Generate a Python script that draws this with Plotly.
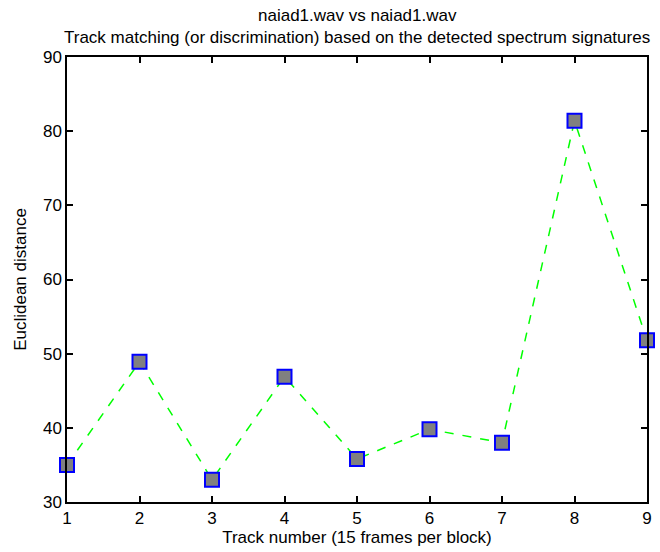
import plotly.graph_objects as go

tracks = [1, 2, 3, 4, 5, 6, 7, 8, 9]
distances = [35.0, 48.9, 33.0, 46.9, 35.8, 39.8, 38.0, 81.4, 51.8]
y_ticks = [30, 40, 50, 60, 70, 80, 90]

title_lines = [
    "naiad1.wav vs naiad1.wav",
    "Track matching (or discrimination) based on the detected spectrum signatures",
]

FONT = "Liberation Sans, Arial"

fig = go.Figure()
fig.add_trace(go.Scatter(
    x=tracks, y=distances, mode="lines+markers",
    line=dict(color="#00ff00", width=1.5, dash="dash"),
    marker=dict(symbol="square", size=14, color="#808080",
                line=dict(color="#0000ff", width=2)),
    cliponaxis=False, showlegend=False,
))

axis_common = dict(
    showgrid=False, zeroline=False, showline=True, linecolor="black",
    linewidth=1.5, mirror="ticks", ticks="inside", ticklen=6,
    tickcolor="black", tickwidth=1.5,
    tickfont=dict(family=FONT, size=17, color="black"),
)

fig.update_layout(
    width=660, height=552,
    margin=dict(l=67, r=8, t=57, b=50),
    paper_bgcolor="white", plot_bgcolor="white",
    xaxis=dict(range=[1, 9], tickvals=tracks,
               title=dict(text="Track number (15 frames per block)", standoff=2,
                          font=dict(family=FONT, size=17, color="black")),
               **axis_common),
    yaxis=dict(range=[30, 90], tickvals=y_ticks,
               title=dict(text="Euclidean distance", standoff=12,
                          font=dict(family=FONT, size=17, color="black")),
               **axis_common),
)

# two-line title drawn as separate centred lines above the axes
for i, line in enumerate(title_lines):
    fig.add_annotation(
        text=line, xref="paper", yref="paper",
        x=0.5, y=1, xanchor="center", yanchor="middle",
        yshift=57 - (15 + 22 * i), showarrow=False,
        font=dict(family=FONT, size=17, color="black"),
    )

fig.write_html("out.html")
